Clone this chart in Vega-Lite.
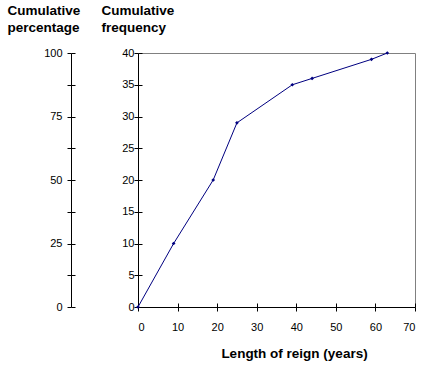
{
  "$schema": "https://vega.github.io/schema/vega-lite/v6.json",
  "width": 277,
  "height": 254,
  "autosize": "none",
  "padding": {"left": 138, "top": 53, "right": 27, "bottom": 68},
  "background": "white",
  "config": {
    "font": "Liberation Sans",
    "view": {"stroke": "#808080", "strokeWidth": 1},
    "axis": {"grid": false, "labelFont": "Liberation Sans", "titleFont": "Liberation Sans", "labelColor": "black", "tickColor": "black", "domainColor": "black", "labelFontSize": 11, "titleFontSize": 13.5, "titleFontWeight": "bold", "titleColor": "black"}
  },
  "data": {"values": [
    {"years": 0, "freq": 0, "pct": 0},
    {"years": 9, "freq": 10, "pct": 25},
    {"years": 19, "freq": 20, "pct": 50},
    {"years": 25, "freq": 29, "pct": 72.5},
    {"years": 39, "freq": 35, "pct": 87.5},
    {"years": 44, "freq": 36, "pct": 90},
    {"years": 59, "freq": 39, "pct": 97.5},
    {"years": 63, "freq": 40, "pct": 100}
  ]},
  "layer": [
    {
      "mark": {"type": "line", "color": "#000080", "strokeWidth": 1, "point": {"shape": "diamond", "size": 14, "filled": true, "color": "#000080"}},
      "encoding": {
        "x": {"field": "years", "type": "quantitative", "scale": {"domain": [0, 70], "nice": false},
          "axis": {"values": [0,10,20,30,40,50,60,70], "tickSize": 4, "labelPadding": 10, "title": "Length of reign (years)", "titleX": 156, "titleY": 46, "titleAlign": "center", "titleBaseline": "middle", "orient": "bottom"}},
        "y": {"field": "freq", "type": "quantitative", "scale": {"domain": [0, 40], "nice": false},
          "axis": {"orient": "left", "values": [0,5,10,15,20,25,30,35,40], "tickSize": 4, "labelPadding": 0, "title": ["Cumulative", "frequency"], "titleAngle": 0, "titleAlign": "left", "titleBaseline": "top", "titleX": -37, "titleY": -50, "titleLineHeight": 17}}
      }
    },
    {
      "mark": {"type": "point", "opacity": 0},
      "encoding": {
        "x": {"field": "years", "type": "quantitative", "scale": {"domain": [0, 70], "nice": false},
          "axis": {"orient": "bottom", "offset": -4, "values": [0,10,20,30,40,50,60,70], "tickSize": 4, "labels": false, "domain": false, "title": null}},
        "y": {"field": "freq", "type": "quantitative", "scale": {"domain": [0, 40], "nice": false},
          "axis": {"orient": "left", "offset": -4, "values": [0,5,10,15,20,25,30,35,40], "tickSize": 4, "labels": false, "domain": false, "title": null}}
      }
    },
    {
      "mark": {"type": "point", "opacity": 0},
      "encoding": {
        "y": {"field": "pct", "type": "quantitative", "scale": {"domain": [0, 100], "nice": false},
          "axis": {"orient": "left", "offset": 67, "values": [0,12.5,25,37.5,50,62.5,75,87.5,100], "labelExpr": "datum.value % 25 == 0 ? datum.label : ''", "tickSize": 4, "labelPadding": 5, "title": ["Cumulative", "percentage"], "titleAngle": 0, "titleAlign": "left", "titleBaseline": "top", "titleX": -64, "titleY": -50, "titleLineHeight": 17}}
      }
    },
    {
      "mark": {"type": "point", "opacity": 0},
      "encoding": {
        "y": {"field": "pct", "type": "quantitative", "scale": {"domain": [0, 100], "nice": false},
          "axis": {"orient": "left", "offset": 63, "values": [0,12.5,25,37.5,50,62.5,75,87.5,100], "tickSize": 4, "labels": false, "domain": false, "title": null}}
      }
    }
  ],
  "resolve": {"scale": {"y": "independent"}, "axis": {"x": "independent", "y": "independent"}}
}
